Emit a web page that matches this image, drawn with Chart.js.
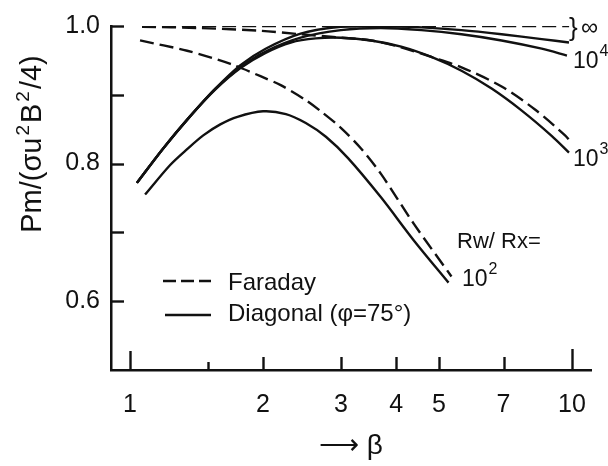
<!DOCTYPE html>
<html>
<head>
<meta charset="utf-8">
<script src="https://cdn.jsdelivr.net/npm/chart.js@4/dist/chart.umd.min.js"></script>
<style>
  html, body { margin: 0; padding: 0; background: #fff; }
  #wrap { width: 608px; height: 466px; }
</style>
</head>
<body>
<div id="wrap"><canvas id="c" width="608" height="466"></canvas></div>
<script>
// Normalised power density Pm/(σu²B²/4) versus Hall parameter β
// for Faraday and diagonal (φ = 75°) generators, Rw/Rx = 10², 10³, 10⁴, ∞.

const xTickValues = [1, 1.5, 2, 3, 4, 5, 7, 10];
const xTickLabels = ['1', '', '2', '3', '4', '5', '7', '10'];
const yTickValues = [0.6, 0.7, 0.8, 0.9, 1.0];
const yTickLabels = ['0.6', '', '0.8', '', '1.0'];

// Faraday generator (dashed)
const faradayInfBeta = [1.065, 2, 4, 9.85];
const faradayInfP    = [1.0, 1.0, 1.0, 1.0];
const faraday1e3Beta = [1.065, 1.443, 1.974, 2.433, 3.0, 3.511, 4.107, 4.806, 5.623, 6.93, 8.232, 9.644, 10.0];
const faraday1e3P    = [0.999, 0.997, 0.993, 0.988, 0.983, 0.979, 0.969, 0.955, 0.940, 0.912, 0.879, 0.841, 0.829];
const faraday1e2Beta = [1.054, 1.347, 1.688, 1.974, 2.193, 2.475, 2.703, 3.0, 3.332, 3.697, 4.392, 5.337];
const faraday1e2P    = [0.979, 0.964, 0.945, 0.927, 0.914, 0.894, 0.876, 0.852, 0.822, 0.785, 0.712, 0.636];

// Diagonal generator, φ = 75° (solid)
const diagInfBeta = [1.037, 1.189, 1.369, 1.561, 1.778, 2.027, 2.433, 3.0, 3.697, 4.565, 5.623, 6.93, 8.541, 9.844];
const diagInfP    = [0.772, 0.822, 0.869, 0.909, 0.943, 0.967, 0.989, 0.999, 1.0, 0.998, 0.994, 0.988, 0.981, 0.976];
const diag1e4Beta = [1.037, 1.189, 1.369, 1.561, 1.778, 2.027, 2.433, 3.0, 3.697, 4.565, 5.623, 6.93, 8.541, 9.74];
const diag1e4P    = [0.772, 0.822, 0.869, 0.909, 0.940, 0.963, 0.983, 0.994, 0.997, 0.994, 0.988, 0.979, 0.967, 0.957];
const diag1e3Beta = [1.037, 1.189, 1.369, 1.561, 1.778, 2.027, 2.311, 2.633, 3.0, 3.511, 4.107, 4.806, 5.623, 6.579, 7.697, 9.006, 9.844];
const diag1e3P    = [0.772, 0.822, 0.869, 0.908, 0.939, 0.961, 0.976, 0.982, 0.983, 0.979, 0.970, 0.955, 0.935, 0.909, 0.877, 0.840, 0.816];
const diag1e2Beta = [1.082, 1.233, 1.347, 1.465, 1.601, 1.751, 2.0, 2.253, 2.499, 2.775, 3.114, 3.697, 4.392, 5.256];
const diag1e2P    = [0.755, 0.798, 0.821, 0.841, 0.857, 0.868, 0.876, 0.872, 0.859, 0.839, 0.808, 0.751, 0.688, 0.627];

const INK = '#111';
const FONT = '"Liberation Sans", Arial, sans-serif';

function pts(xs, ys) { return xs.map((x, i) => ({ x: x, y: ys[i] })); }
function series(label, xs, ys, dashed) {
  return {
    label: label,
    data: pts(xs, ys),
    borderColor: INK,
    borderWidth: 2.4,
    borderDash: dashed ? [14, 6] : [],
    pointRadius: 0,
    fill: false,
    showLine: true,
    tension: 0.3
  };
}

// Inward tick marks, legend, curve labels and the rotated y title
const decorations = {
  id: 'decorations',
  afterDraw(chart) {
    const ctx = chart.ctx;
    const xs = chart.scales.x, ys = chart.scales.y;
    const area = chart.chartArea;
    ctx.save();
    ctx.strokeStyle = INK;
    ctx.fillStyle = INK;
    ctx.lineWidth = 2.4;
    ctx.lineCap = 'butt';

    // x tick marks (pointing up into the plot)
    const xLen = { 1: 19, 1.5: 8, 10: 21 };
    xTickValues.forEach(v => {
      const px = Math.round(xs.getPixelForValue(v)) + 0.5;
      const len = xLen[v] || 13;
      ctx.beginPath();
      ctx.moveTo(px, area.bottom);
      ctx.lineTo(px, area.bottom - len);
      ctx.stroke();
    });
    // y tick marks (pointing right into the plot)
    yTickValues.forEach(v => {
      const py = Math.round(ys.getPixelForValue(v)) + 0.5;
      ctx.beginPath();
      ctx.moveTo(area.left, py);
      ctx.lineTo(area.left + 13, py);
      ctx.stroke();
    });

    // legend
    ctx.textBaseline = 'alphabetic';
    ctx.textAlign = 'left';
    ctx.font = '24px ' + FONT;
    ctx.beginPath();
    ctx.setLineDash([13, 5]);
    ctx.moveTo(163, 281); ctx.lineTo(211, 281);
    ctx.stroke();
    ctx.setLineDash([]);
    ctx.beginPath();
    ctx.moveTo(165, 315); ctx.lineTo(211, 315);
    ctx.stroke();
    ctx.fillText('Faraday', 228, 290);
    ctx.fillText('Diagonal (\u03c6=75\u00b0)', 228, 321);

    // curve labels
    ctx.font = '22px ' + FONT;
    ctx.fillText('Rw/ Rx=', 457, 248);
    function power(x, y, sup) {
      ctx.font = '23px ' + FONT;
      ctx.fillText('10', x, y);
      const w = ctx.measureText('10').width;
      ctx.font = '16px ' + FONT;
      ctx.fillText(sup, x + w + 1, y - 12);
    }
    power(462, 286, '2');
    power(573, 166, '3');
    power(573, 68, '4');
    ctx.font = '26px ' + FONT;
    ctx.fillText('}', 569, 36);
    ctx.font = '24px ' + FONT;
    ctx.fillText('\u221e', 581, 35);

    // y axis title with superscripts, rotated
    const parts = [
      ['Pm/(\u03c3u', false], ['2', true], ['B', false], ['2', true], ['/4)', false]
    ];
    const mainFont = '29px ' + FONT, supFont = '19px ' + FONT;
    const gap = 2;
    let total = 0;
    parts.forEach(p => { ctx.font = p[1] ? supFont : mainFont; total += ctx.measureText(p[0]).width + gap; });
    ctx.translate(41, 143);
    ctx.rotate(-Math.PI / 2);
    let cx = -total / 2;
    parts.forEach(p => {
      ctx.font = p[1] ? supFont : mainFont;
      ctx.fillText(p[0], cx, p[1] ? -12 : 0);
      cx += ctx.measureText(p[0]).width + gap;
    });
    ctx.restore();
  }
};

new Chart(document.getElementById('c'), {
  type: 'scatter',
  data: {
    datasets: [
      series('Faraday, Rw/Rx = \u221e', faradayInfBeta, faradayInfP, true),
      series('Faraday, Rw/Rx = 10\u00b3', faraday1e3Beta, faraday1e3P, true),
      series('Faraday, Rw/Rx = 10\u00b2', faraday1e2Beta, faraday1e2P, true),
      series('Diagonal, Rw/Rx = \u221e', diagInfBeta, diagInfP, false),
      series('Diagonal, Rw/Rx = 10\u2074', diag1e4Beta, diag1e4P, false),
      series('Diagonal, Rw/Rx = 10\u00b3', diag1e3Beta, diag1e3P, false),
      series('Diagonal, Rw/Rx = 10\u00b2', diag1e2Beta, diag1e2P, false)
    ]
  },
  options: {
    responsive: false,
    animation: false,
    layout: { padding: { top: 18, right: 17, left: 0, bottom: 0 } },
    plugins: { legend: { display: false }, tooltip: { enabled: false } },
    scales: {
      x: {
        type: 'logarithmic',
        position: 'bottom',
        min: 0.906,
        max: 11.04,
        afterFit(s) { s.height = 96; },
        afterBuildTicks(s) { s.ticks = xTickValues.map(v => ({ value: v })); },
        grid: { display: false, drawTicks: false },
        border: { display: true, color: INK, width: 2.5 },
        ticks: {
          autoSkip: false, maxRotation: 0, padding: 20, color: INK,
          font: { family: FONT, size: 25 },
          callback: (v) => { const i = xTickValues.indexOf(v); return i >= 0 ? xTickLabels[i] : ''; }
        },
        title: { display: true, text: '\u27f6 \u03b2', color: INK, font: { family: FONT, size: 28 }, padding: { top: 0, bottom: 3 } }
      },
      y: {
        type: 'linear',
        min: 0.5,
        max: 1.0,
        afterFit(s) { s.width = 111; },
        afterBuildTicks(s) { s.ticks = yTickValues.map(v => ({ value: v })); },
        grid: { display: false, drawTicks: false },
        border: { display: true, color: INK, width: 2.5 },
        ticks: {
          padding: 11, color: INK,
          font: { family: FONT, size: 25 },
          callback: (v) => { const i = yTickValues.findIndex(t => Math.abs(t - v) < 1e-9); return i >= 0 ? yTickLabels[i] : ''; }
        }
      }
    }
  },
  plugins: [decorations]
});
</script>
</body>
</html>
